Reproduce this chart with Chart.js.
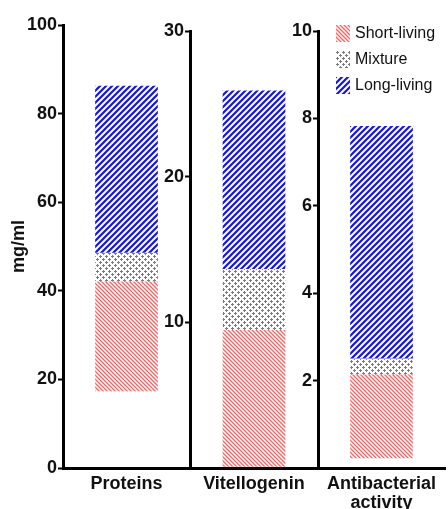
<!DOCTYPE html>
<html>
<head>
<meta charset="utf-8">
<script src="https://cdn.jsdelivr.net/npm/chart.js@4"></script>
<style>
  html, body { margin:0; padding:0; background:#fff; }
  #wrap { position:relative; width:448px; height:509px; overflow:hidden; font-family:"Liberation Sans", Arial, sans-serif; }
  .pc { position:absolute; top:0; height:509px; }
  #legend { position:absolute; left:336px; top:20px; }
  .li { display:flex; align-items:center; height:26px; font-size:16px; color:#111; }
  .li canvas { width:14px; height:17px; margin-right:5px; }
</style>
</head>
<body>
<div id="wrap">
  <div class="pc" style="left:0;width:190px"><canvas id="c1"></canvas></div>
  <div class="pc" style="left:150px;width:168px"><canvas id="c2"></canvas></div>
  <div class="pc" style="left:278px;width:170px"><canvas id="c3"></canvas></div>
  <div id="legend"></div>
</div>
<script>
// ---- data ----
const categories = ["Proteins", "Vitellogenin", ["Antibacterial", "activity"]];
const seriesNames = ["Short-living", "Mixture", "Long-living"];
const shortLiving = [[17.4, 42.0], [0.1, 9.45], [0.23, 2.13]];
const mixture     = [[42.0, 48.5], [9.45, 13.64], [2.13, 2.5]];
const longLiving  = [[48.5, 86.2], [13.64, 25.9], [2.5, 7.82]];
const axisMax   = [100, 30, 10];
const axisStep  = [20, 10, 2];
const yTitle = "mg/ml";

// ---- patterns ----
function makePattern(kind) {
  const c = document.createElement('canvas');
  const ctx = c.getContext('2d');
  if (kind === 'red') {
    c.width = 4; c.height = 4;
    ctx.fillStyle = '#fff'; ctx.fillRect(0,0,4,4);
    ctx.strokeStyle = 'rgb(255,95,95)'; ctx.lineWidth = 1.3;
    ctx.beginPath();
    ctx.moveTo(-1,-1); ctx.lineTo(5,5);
    ctx.moveTo(-1,3); ctx.lineTo(1,5);
    ctx.moveTo(3,-1); ctx.lineTo(5,1);
    ctx.stroke();
  } else if (kind === 'gray') {
    c.width = 6; c.height = 6;
    ctx.fillStyle = '#fff'; ctx.fillRect(0,0,6,6);
    ctx.fillStyle = 'rgb(125,125,125)';
    const dot = (x,y) => { ctx.fillRect(x-1,y,3,1); ctx.fillRect(x,y-1,1,3); ctx.fillRect(x,y,1,1); };
    dot(1,1); dot(4,4);
  } else {
    c.width = 6; c.height = 6;
    ctx.fillStyle = '#fff'; ctx.fillRect(0,0,6,6);
    ctx.strokeStyle = 'rgb(20,20,235)'; ctx.lineWidth = 2.2;
    ctx.beginPath();
    ctx.moveTo(-1,7); ctx.lineTo(7,-1);
    ctx.moveTo(-4,4); ctx.lineTo(4,-4);
    ctx.moveTo(2,10); ctx.lineTo(10,2);
    ctx.stroke();
  }
  return c;
}
const patCanvases = [makePattern('red'), makePattern('gray'), makePattern('blue')];

const FONT = '"Liberation Sans", Arial, sans-serif';
const yWidths = [63, 40, 40];
const series = [shortLiving, mixture, longLiving];

function makeChart(i) {
  const canvas = document.getElementById('c' + (i + 1));
  const ctx = canvas.getContext('2d');
  const pats = patCanvases.map(p => ctx.createPattern(p, 'repeat'));
  const topPad = i === 0 ? 25 : 31;
  new Chart(canvas, {
    type: 'bar',
    data: {
      labels: [categories[i]],
      datasets: series.map((s, k) => ({
        label: seriesNames[k],
        data: [s[i]],
        backgroundColor: pats[k],
        borderWidth: 0,
        barThickness: 62,
        grouped: false
      }))
    },
    options: {
      responsive: true,
      maintainAspectRatio: false,
      animation: false,
      devicePixelRatio: 1,
      layout: { padding: { top: topPad, right: i === 2 ? 3 : 0, left: 0, bottom: 0 } },
      plugins: { legend: { display: false }, tooltip: { enabled: false } },
      scales: {
        x: {
          grid: { display: false, drawTicks: false },
          border: { display: true, color: '#000', width: 3 },
          ticks: { color: '#111', font: { family: FONT, size: 18, weight: 'bold', lineHeight: 1.05 }, padding: 7, maxRotation: 0, autoSkip: false },
          afterFit: s => { s.height = 41; }
        },
        y: {
          min: 0, max: axisMax[i],
          grid: { display: true, drawOnChartArea: false, drawTicks: true, tickLength: 5, tickWidth: 2, color: '#000' },
          border: { display: true, color: '#000', width: 3 },
          ticks: {
            stepSize: axisStep[i], padding: 1, color: '#111',
            font: { family: FONT, size: 18, weight: 'bold' },
            callback: v => (i > 0 && v === 0) ? '' : v
          },
          title: i === 0 ? { display: true, text: yTitle, color: '#111', font: { family: FONT, size: 18, weight: 'bold' }, padding: 8 } : { display: false },
          afterFit: s => { s.width = yWidths[i]; }
        }
      }
    }
  });
}
[0, 1, 2].forEach(makeChart);

// legend
const lg = document.getElementById('legend');
seriesNames.forEach((n, k) => {
  const row = document.createElement('div'); row.className = 'li';
  const sw = document.createElement('canvas'); sw.width = 14; sw.height = 17;
  const sctx = sw.getContext('2d');
  sctx.fillStyle = sctx.createPattern(patCanvases[k], 'repeat');
  sctx.fillRect(0, 0, 14, 17);
  const t = document.createElement('span'); t.textContent = n;
  row.appendChild(sw); row.appendChild(t); lg.appendChild(row);
});
</script>
</body>
</html>
